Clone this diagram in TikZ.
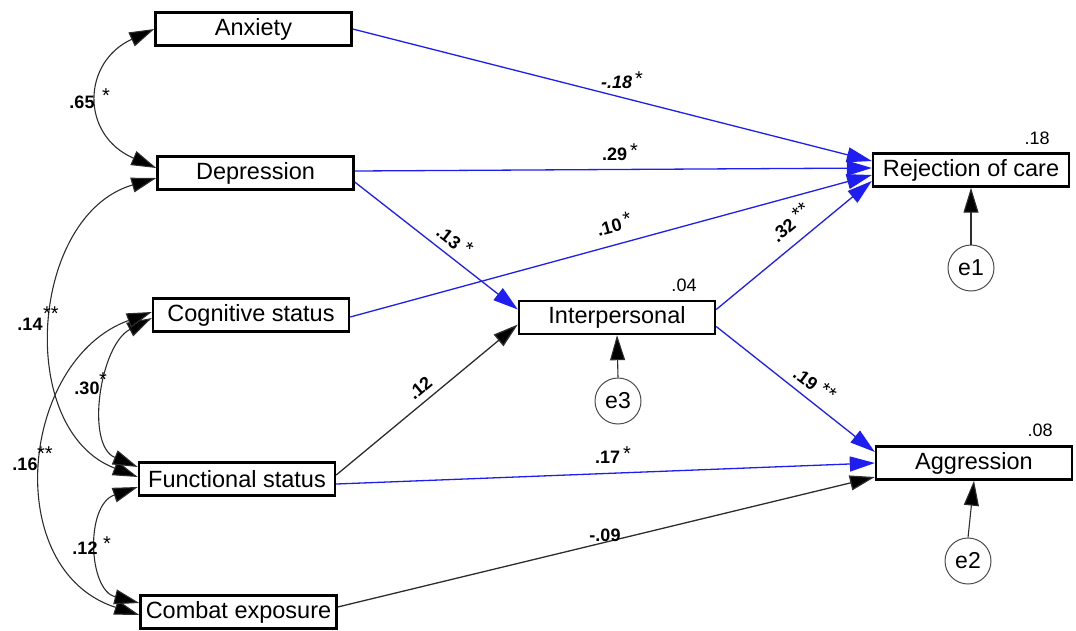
\documentclass[tikz,border=0pt]{standalone}
\usepackage{fontspec}
\setmainfont{Liberation Sans}
\usetikzlibrary{arrows.meta,calc}
\definecolor{pathblue}{RGB}{30,30,240}
\definecolor{pathgray}{RGB}{45,45,45}
\newcommand{\sig}[1]{\raisebox{3pt}{\fontsize{20}{22}\selectfont\mdseries\upshape #1}}
\begin{document}
\begin{tikzpicture}[x=1pt,y=-1pt,
  box/.style={draw=black, line width=2.4pt, minimum width=196pt, minimum height=33pt, inner sep=0pt, font=\fontsize{23.5}{27}\selectfont},
  err/.style={circle, draw=black!70, line width=1pt, minimum size=46pt, inner sep=0pt, font=\fontsize{23}{27}\selectfont},
  bpath/.style={draw=pathblue, line width=1.3pt, -{Triangle[length=25pt,width=15pt,fill=pathblue]}},
  kpath/.style={draw=pathgray, line width=1.3pt, -{Triangle[length=25pt,width=15pt,fill=black]}},
  cov/.style={draw=pathgray, line width=1.1pt, {Triangle[length=25pt,width=15pt,fill=black]}-{Triangle[length=25pt,width=15pt,fill=black]}},
  lab/.style={font=\bfseries\fontsize{18}{20}\selectfont, inner sep=0pt},
  ast/.style={font=\fontsize{20}{22}\selectfont, inner sep=0pt},
  rsq/.style={font=\fontsize{18}{20}\selectfont, inner sep=0pt}
]
\useasboundingbox (0,0) rectangle (1076,630);

% observed variables
\node[box] (anx) at (253.5,29) {Anxiety};
\node[box] (dep) at (255.5,173) {Depression};
\node[box] (cog) at (251,315) {Cognitive status};
\node[box] (fun) at (237,479) {Functional status};
\node[box] (com) at (238.5,612) {Combat exposure};
\node[box] (int) at (617,317.5) {Interpersonal};
\node[box] (rej) at (971,170) {Rejection of care};
\node[box] (agg) at (974,463) {Aggression};

% error terms
\node[err] (e1) at (971,268) {e1};
\node[err] (e2) at (968,561) {e2};
\node[err] (e3) at (618,401) {e3};

% R squared
\node[rsq] (r1) at (1037,138) {.18};
\node[rsq] (r3) at (684,285) {.04};
\node[rsq] (r2) at (1040,430) {.08};

% structural paths
\draw[bpath] (anx.east) -- ([yshift=9pt]rej.west);
\draw[bpath] ([yshift=2pt]dep.east) -- ([yshift=2pt]rej.west);
\draw[bpath] ([yshift=-2pt]cog.east) -- ([yshift=-5pt]rej.west);
\draw[bpath] ([yshift=8pt]int.east) -- ([yshift=-11pt]rej.west);
\draw[bpath] ([yshift=-9pt]dep.east) -- ([yshift=8pt]int.west);
\draw[kpath] ([yshift=4pt]fun.east) -- ([yshift=-7pt]int.west);
\draw[bpath] ([yshift=-9pt]int.east) -- ([yshift=11pt]agg.west);
\draw[bpath] ([yshift=-5pt]fun.east) -- (agg.west);
\draw[kpath] ([yshift=5pt]com.east) -- ([yshift=-14pt]agg.west);

% error arrows
\draw[kpath, line width=1.1pt] (e1.north) -- (rej.south);
\draw[kpath, line width=1.1pt] (e2.north) -- (agg.south);
\draw[kpath, line width=1.1pt] (e3.north) -- (int.south);

% covariances
\draw[cov] (anx.west) .. controls (82,62) and (80,135) .. ([yshift=5pt]dep.west);
\draw[cov] ([yshift=-5pt]dep.west) .. controls (30,215) and (15,430) .. ([yshift=2pt]fun.west);
\draw[cov] ([yshift=-3pt]cog.west) .. controls (100,345) and (85,445) .. ([yshift=12pt]fun.west);
\draw[cov] ([yshift=3pt]cog.west) .. controls (20,360) and (0,570) .. ([yshift=-3pt]com.west);
\draw[cov] ([yshift=-8pt]fun.west) .. controls (85,505) and (88,590) .. ([yshift=9pt]com.west);

% covariance labels
\node[lab] (l65) at (82,102) {.65};
\node[ast] (a65) at (106,96) {*};
\node[lab] (l14) at (30,324) {.14};
\node[ast] (a14) at (51,314) {**};
\node[lab] (l30) at (87,388) {.30};
\node[ast] (a30) at (103,380) {*};
\node[lab] (l16) at (25,464) {.16};
\node[ast] (a16) at (45,454) {**};
\node[lab] (l12c) at (85,548) {.12};
\node[ast] (a12c) at (107,544) {*};

% path labels
\node[lab, font=\bfseries\itshape\fontsize{18}{20}\selectfont] (l18) at (622,80) {-.18\,\sig{*}};
\node[lab] (l29) at (620,152) {.29\,\sig{*}};
\node[lab, rotate=-38] (l13) at (455,240) {.13 \sig{*}};
\node[lab, rotate=15] (l10) at (614,224) {.10\,\sig{*}};
\node[lab, rotate=40] (l32) at (790,222) {.32 \sig{**}};
\node[lab, rotate=40] (l12) at (420,388) {.12};
\node[lab, rotate=-37] (l19) at (815,384) {.19 \sig{**}};
\node[lab] (l17) at (613,455) {.17\,\sig{*}};
\node[lab] (l09) at (605,535) {-.09};
\end{tikzpicture}
\end{document}
